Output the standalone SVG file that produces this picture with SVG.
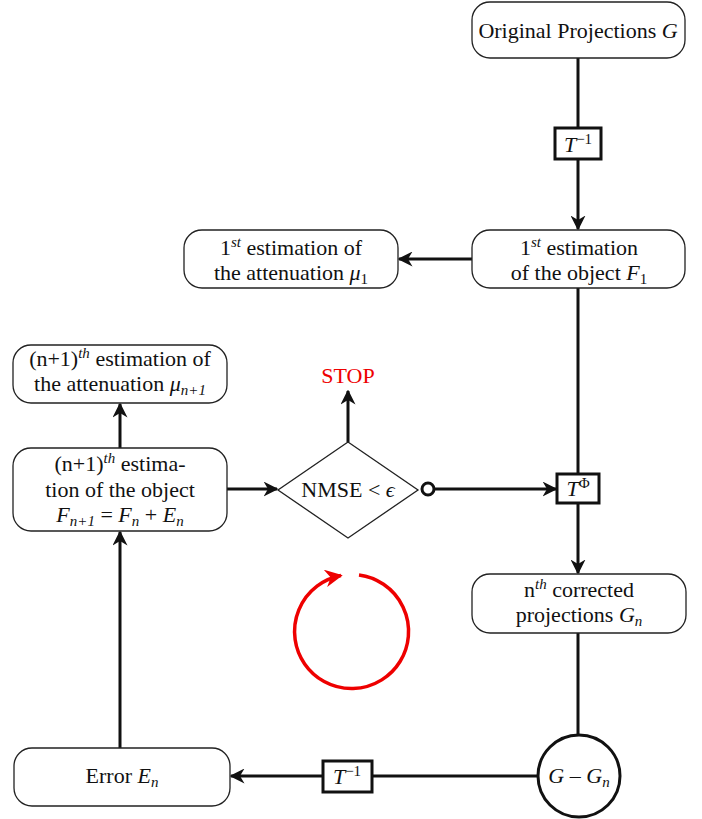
<svg xmlns="http://www.w3.org/2000/svg" width="702" height="819" viewBox="0 0 702 819">
<style>
text{font-family:"Liberation Serif","DejaVu Serif",serif;font-size:22px;fill:#111;text-anchor:middle}
.i{font-style:italic}
.sup{font-size:15px}
.sub{font-size:15px}
.node{fill:#fff;stroke:#222;stroke-width:1.3}
.op{fill:#fff;stroke:#111;stroke-width:3}
.c{fill:none;stroke:#111;stroke-width:3}
</style>
<defs>
<marker id="ah" viewBox="0 0 10 10" refX="9" refY="5" markerWidth="5" markerHeight="5" orient="auto" markerUnits="strokeWidth">
<path d="M0,0 L10,5 L0,10 L3,5 Z" fill="#111"/>
</marker>
<marker id="rh" viewBox="0 0 10 10" refX="9" refY="5" markerWidth="5" markerHeight="5" orient="auto" markerUnits="strokeWidth">
<path d="M0,0 L10,5 L0,10 L3,5 Z" fill="#e00"/>
</marker>
</defs>

<g id="connectors">
<line class="c" x1="578" y1="58" x2="578" y2="128"/>
<line class="c" x1="578" y1="160" x2="578" y2="229" marker-end="url(#ah)"/>
<line class="c" x1="472" y1="259" x2="399" y2="259" marker-end="url(#ah)"/>
<line class="c" x1="578" y1="288" x2="578" y2="473"/>
<line class="c" x1="578" y1="503" x2="578" y2="573" marker-end="url(#ah)"/>
<line class="c" x1="578" y1="633" x2="578" y2="735"/>
<line class="c" x1="537" y1="776" x2="372" y2="776"/>
<line class="c" x1="323" y1="776" x2="231" y2="776" marker-end="url(#ah)"/>
<line class="c" x1="120" y1="748" x2="120" y2="532" marker-end="url(#ah)"/>
<line class="c" x1="120" y1="448" x2="120" y2="404" marker-end="url(#ah)"/>
<line class="c" x1="227" y1="489" x2="277" y2="489" marker-end="url(#ah)"/>
<line class="c" x1="348" y1="442" x2="348" y2="391" marker-end="url(#ah)"/>
<line class="c" x1="434" y1="489" x2="556" y2="489" marker-end="url(#ah)"/>
<circle cx="428" cy="489" r="6" fill="#fff" stroke="#111" stroke-width="3"/>
</g>

<g id="cycle">
<path d="M359,575 A57,57 0 1 1 341,575.5" fill="none" stroke="#e00" stroke-width="3.5" marker-end="url(#rh)"/>
</g>

<g id="orig">
<rect class="node" x="472" y="2" width="213" height="56" rx="18"/>
<text x="578" y="38">Original Projections <tspan class="i">G</tspan></text>
</g>

<g id="tinv1">
<rect class="op" x="555" y="128" width="46" height="31"/>
<text x="578" y="152"><tspan class="i">T</tspan><tspan class="sup" dy="-8">−1</tspan></text>
</g>

<g id="est1">
<rect class="node" x="472" y="230" width="213" height="58" rx="18"/>
<text x="579" y="255">1<tspan class="sup" dy="-8" font-style="italic">st</tspan><tspan dy="8"> estimation</tspan></text>
<text x="579" y="280">of the object <tspan class="i">F</tspan><tspan class="sub" dy="4">1</tspan></text>
</g>

<g id="att1">
<rect class="node" x="184" y="230" width="214" height="58" rx="18"/>
<text x="291" y="255">1<tspan class="sup" dy="-8" font-style="italic">st</tspan><tspan dy="8"> estimation of</tspan></text>
<text x="291" y="280">the attenuation <tspan class="i">μ</tspan><tspan class="sub" dy="4">1</tspan></text>
</g>

<g id="tphi">
<rect class="op" x="557" y="474" width="42" height="29"/>
<text x="578" y="496"><tspan class="i">T</tspan><tspan class="sup" dy="-8">Φ</tspan></text>
</g>

<g id="corr">
<rect class="node" x="472" y="574" width="214" height="59" rx="18"/>
<text x="579" y="597">n<tspan class="sup" dy="-8" font-style="italic">th</tspan><tspan dy="8"> corrected</tspan></text>
<text x="579" y="622">projections <tspan class="i">G</tspan><tspan class="sub i" dy="4">n</tspan></text>
</g>

<g id="diff">
<circle cx="579" cy="776" r="41" fill="#fff" stroke="#111" stroke-width="3"/>
<text x="579" y="783"><tspan class="i">G</tspan> – <tspan class="i">G</tspan><tspan class="sub i" dy="4">n</tspan></text>
</g>

<g id="tinv2">
<rect class="op" x="323" y="761" width="49" height="31"/>
<text x="347" y="784"><tspan class="i">T</tspan><tspan class="sup" dy="-8">−1</tspan></text>
</g>

<g id="error">
<rect class="node" x="14" y="748" width="216" height="58" rx="18"/>
<text x="122" y="783">Error <tspan class="i">E</tspan><tspan class="sub i" dy="4">n</tspan></text>
</g>

<g id="estn">
<rect class="node" x="13" y="448" width="214" height="83" rx="18"/>
<text x="120" y="471">(n+1)<tspan class="sup i" dy="-8">th</tspan><tspan dy="8"> estima-</tspan></text>
<text x="120" y="497">tion of the object</text>
<text x="120" y="522"><tspan class="i">F</tspan><tspan class="sub i" dy="4">n+1</tspan><tspan dy="-4"> = </tspan><tspan class="i">F</tspan><tspan class="sub i" dy="4">n</tspan><tspan dy="-4"> + </tspan><tspan class="i">E</tspan><tspan class="sub i" dy="4">n</tspan></text>
</g>

<g id="attn">
<rect class="node" x="13" y="345" width="214" height="58" rx="18"/>
<text x="120" y="366">(n+1)<tspan class="sup i" dy="-8">th</tspan><tspan dy="8"> estimation of</tspan></text>
<text x="120" y="391">the attenuation <tspan class="i">μ</tspan><tspan class="sub i" dy="4">n+1</tspan></text>
</g>

<g id="nmse">
<polygon points="348,442 418,490 348,538 278,490" fill="#fff" stroke="#222" stroke-width="1.3"/>
<text x="348" y="497">NMSE &lt; <tspan class="i">ϵ</tspan></text>
</g>

<g id="stop">
<text x="348" y="383" fill="#e00" style="fill:#e00">STOP</text>
</g>
</svg>
